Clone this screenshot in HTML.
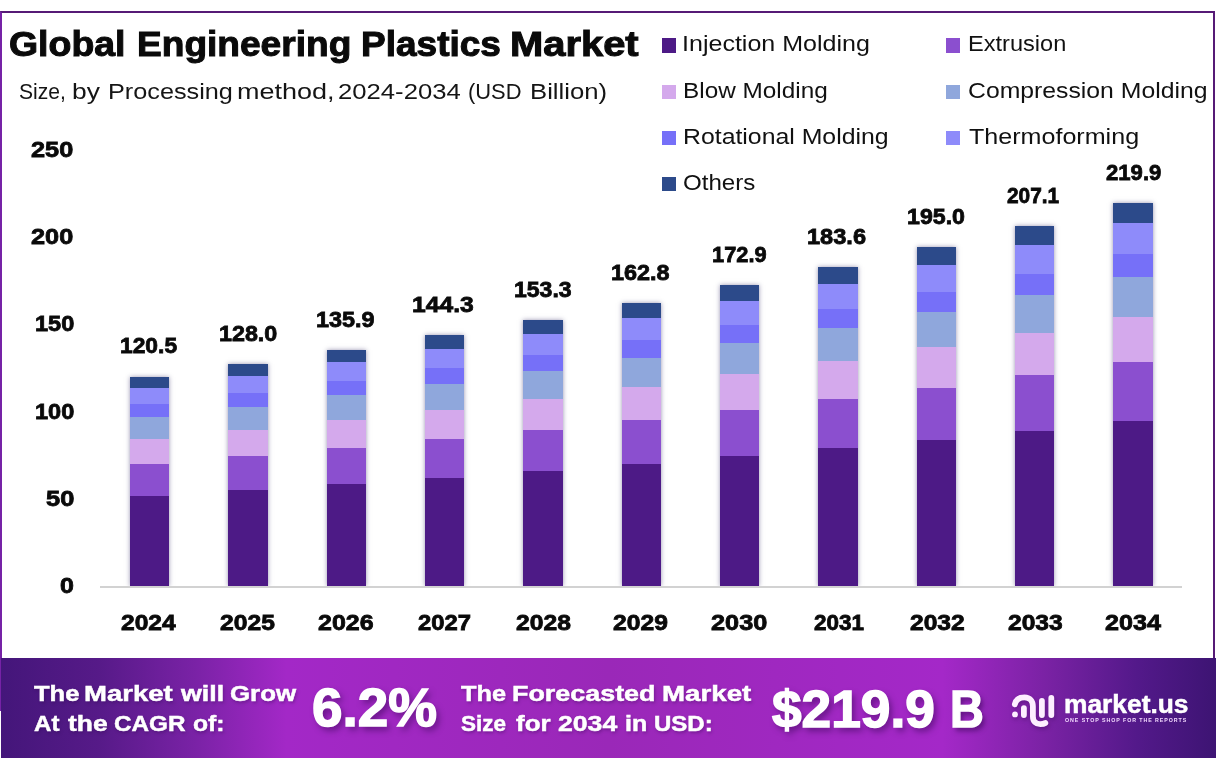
<!DOCTYPE html>
<html lang="en"><head><meta charset="utf-8"><title>Global Engineering Plastics Market</title>
<style>
html,body{margin:0;padding:0;background:#fff;}
body{width:1216px;height:776px;position:relative;overflow:hidden;font-family:"Liberation Sans",sans-serif;}
.t{position:absolute;z-index:5;white-space:nowrap;line-height:1;transform-origin:0 0;margin:0;padding:0;}
.b{position:absolute;}
.frame{position:absolute;left:0;top:11px;width:1215px;height:700px;border-left:2px solid #7622a6;border-top:2px solid #561a76;border-right:2px solid #561a76;box-sizing:border-box;z-index:3;}
.banner{position:absolute;left:1.2px;top:657.6px;width:1214.8px;z-index:4;height:100px;background:linear-gradient(90deg,#44167a 0%,#561a88 8%,#7a22a6 16%,#a328c7 23.5%,#9a28b8 50%,#a428c8 77.5%,#7a22a4 86%,#53198a 93.5%,#3d1473 100%);}
.plot{position:absolute;left:0;top:0;width:1216px;height:586px;overflow:hidden;}
.axis{position:absolute;left:100px;top:586px;width:1082px;height:1.5px;background:#d2d2d2;}
.bar{position:absolute;box-shadow:0 0 4.5px rgba(50,40,100,.5);}
.seg{position:absolute;left:0;width:100%;}
.sq{position:absolute;width:14.3px;height:14.3px;}
</style></head><body>
<div class="frame"></div>
<div class="axis"></div>
<div class="plot">
<div class="bar" style="left:130.0px;top:376.7px;width:39.4px;height:209.3px;">
<div class="seg" style="bottom:0.00px;height:90.51px;background:#4d1a86;"></div>
<div class="seg" style="bottom:90.21px;height:32.53px;background:#8b4fcf;"></div>
<div class="seg" style="bottom:122.44px;height:25.21px;background:#d4a9ec;"></div>
<div class="seg" style="bottom:147.35px;height:21.86px;background:#8fa7dc;"></div>
<div class="seg" style="bottom:168.91px;height:13.07px;background:#7670f8;"></div>
<div class="seg" style="bottom:181.67px;height:16.83px;background:#8e8bfa;"></div>
<div class="seg" style="bottom:198.21px;height:11.09px;background:#2c4a8a;"></div>
</div>
<div class="bar" style="left:228.3px;top:364.0px;width:39.4px;height:222.0px;">
<div class="seg" style="bottom:0.00px;height:95.98px;background:#4d1a86;"></div>
<div class="seg" style="bottom:95.68px;height:34.49px;background:#8b4fcf;"></div>
<div class="seg" style="bottom:129.87px;height:26.72px;background:#d4a9ec;"></div>
<div class="seg" style="bottom:156.29px;height:23.17px;background:#8fa7dc;"></div>
<div class="seg" style="bottom:179.15px;height:13.84px;background:#7670f8;"></div>
<div class="seg" style="bottom:192.70px;height:17.84px;background:#8e8bfa;"></div>
<div class="seg" style="bottom:210.23px;height:11.77px;background:#2c4a8a;"></div>
</div>
<div class="bar" style="left:326.6px;top:349.9px;width:39.4px;height:236.1px;">
<div class="seg" style="bottom:0.00px;height:102.06px;background:#4d1a86;"></div>
<div class="seg" style="bottom:101.76px;height:36.66px;background:#8b4fcf;"></div>
<div class="seg" style="bottom:138.12px;height:28.40px;background:#d4a9ec;"></div>
<div class="seg" style="bottom:166.21px;height:24.62px;background:#8fa7dc;"></div>
<div class="seg" style="bottom:190.53px;height:14.70px;background:#7670f8;"></div>
<div class="seg" style="bottom:204.93px;height:18.95px;background:#8e8bfa;"></div>
<div class="seg" style="bottom:223.59px;height:12.51px;background:#2c4a8a;"></div>
</div>
<div class="bar" style="left:425.0px;top:335.3px;width:39.4px;height:250.7px;">
<div class="seg" style="bottom:0.00px;height:108.35px;background:#4d1a86;"></div>
<div class="seg" style="bottom:108.05px;height:38.91px;background:#8b4fcf;"></div>
<div class="seg" style="bottom:146.66px;height:30.13px;background:#d4a9ec;"></div>
<div class="seg" style="bottom:176.49px;height:26.12px;background:#8fa7dc;"></div>
<div class="seg" style="bottom:202.31px;height:15.59px;background:#7670f8;"></div>
<div class="seg" style="bottom:217.61px;height:20.11px;background:#8e8bfa;"></div>
<div class="seg" style="bottom:237.41px;height:13.29px;background:#2c4a8a;"></div>
</div>
<div class="bar" style="left:523.3px;top:320.0px;width:39.4px;height:266.0px;">
<div class="seg" style="bottom:0.00px;height:114.95px;background:#4d1a86;"></div>
<div class="seg" style="bottom:114.65px;height:41.26px;background:#8b4fcf;"></div>
<div class="seg" style="bottom:155.61px;height:31.95px;background:#d4a9ec;"></div>
<div class="seg" style="bottom:187.26px;height:27.70px;background:#8fa7dc;"></div>
<div class="seg" style="bottom:214.66px;height:16.53px;background:#7670f8;"></div>
<div class="seg" style="bottom:230.89px;height:21.31px;background:#8e8bfa;"></div>
<div class="seg" style="bottom:251.90px;height:14.10px;background:#2c4a8a;"></div>
</div>
<div class="bar" style="left:621.6px;top:303.1px;width:39.4px;height:282.9px;">
<div class="seg" style="bottom:0.00px;height:122.23px;background:#4d1a86;"></div>
<div class="seg" style="bottom:121.93px;height:43.87px;background:#8b4fcf;"></div>
<div class="seg" style="bottom:165.50px;height:33.97px;background:#d4a9ec;"></div>
<div class="seg" style="bottom:199.16px;height:29.44px;background:#8fa7dc;"></div>
<div class="seg" style="bottom:228.30px;height:17.56px;background:#7670f8;"></div>
<div class="seg" style="bottom:245.56px;height:22.65px;background:#8e8bfa;"></div>
<div class="seg" style="bottom:267.91px;height:14.99px;background:#2c4a8a;"></div>
</div>
<div class="bar" style="left:719.9px;top:285.1px;width:39.4px;height:300.9px;">
<div class="seg" style="bottom:0.00px;height:129.99px;background:#4d1a86;"></div>
<div class="seg" style="bottom:129.69px;height:46.64px;background:#8b4fcf;"></div>
<div class="seg" style="bottom:176.03px;height:36.11px;background:#d4a9ec;"></div>
<div class="seg" style="bottom:211.83px;height:31.29px;background:#8fa7dc;"></div>
<div class="seg" style="bottom:242.83px;height:18.65px;background:#7670f8;"></div>
<div class="seg" style="bottom:261.18px;height:24.07px;background:#8e8bfa;"></div>
<div class="seg" style="bottom:284.95px;height:15.95px;background:#2c4a8a;"></div>
</div>
<div class="bar" style="left:818.2px;top:266.9px;width:39.4px;height:319.1px;">
<div class="seg" style="bottom:0.00px;height:137.83px;background:#4d1a86;"></div>
<div class="seg" style="bottom:137.53px;height:49.44px;background:#8b4fcf;"></div>
<div class="seg" style="bottom:186.67px;height:38.27px;background:#d4a9ec;"></div>
<div class="seg" style="bottom:224.65px;height:33.17px;background:#8fa7dc;"></div>
<div class="seg" style="bottom:257.51px;height:19.77px;background:#7670f8;"></div>
<div class="seg" style="bottom:276.98px;height:25.51px;background:#8e8bfa;"></div>
<div class="seg" style="bottom:302.19px;height:16.91px;background:#2c4a8a;"></div>
</div>
<div class="bar" style="left:916.6px;top:247.0px;width:39.4px;height:339.0px;">
<div class="seg" style="bottom:0.00px;height:146.41px;background:#4d1a86;"></div>
<div class="seg" style="bottom:146.11px;height:52.51px;background:#8b4fcf;"></div>
<div class="seg" style="bottom:198.31px;height:40.64px;background:#d4a9ec;"></div>
<div class="seg" style="bottom:238.66px;height:35.22px;background:#8fa7dc;"></div>
<div class="seg" style="bottom:273.57px;height:20.98px;background:#7670f8;"></div>
<div class="seg" style="bottom:294.25px;height:27.08px;background:#8e8bfa;"></div>
<div class="seg" style="bottom:321.03px;height:17.97px;background:#2c4a8a;"></div>
</div>
<div class="bar" style="left:1014.9px;top:226.0px;width:39.4px;height:360.0px;">
<div class="seg" style="bottom:0.00px;height:155.46px;background:#4d1a86;"></div>
<div class="seg" style="bottom:155.16px;height:55.74px;background:#8b4fcf;"></div>
<div class="seg" style="bottom:210.60px;height:43.14px;background:#d4a9ec;"></div>
<div class="seg" style="bottom:253.44px;height:37.38px;background:#8fa7dc;"></div>
<div class="seg" style="bottom:290.52px;height:22.26px;background:#7670f8;"></div>
<div class="seg" style="bottom:312.48px;height:28.74px;background:#8e8bfa;"></div>
<div class="seg" style="bottom:340.92px;height:19.08px;background:#2c4a8a;"></div>
</div>
<div class="bar" style="left:1113.2px;top:203.2px;width:39.4px;height:382.8px;">
<div class="seg" style="bottom:0.00px;height:165.29px;background:#4d1a86;"></div>
<div class="seg" style="bottom:164.99px;height:59.25px;background:#8b4fcf;"></div>
<div class="seg" style="bottom:223.94px;height:45.85px;background:#d4a9ec;"></div>
<div class="seg" style="bottom:269.49px;height:39.73px;background:#8fa7dc;"></div>
<div class="seg" style="bottom:308.92px;height:23.65px;background:#7670f8;"></div>
<div class="seg" style="bottom:332.27px;height:30.54px;background:#8e8bfa;"></div>
<div class="seg" style="bottom:362.51px;height:20.29px;background:#2c4a8a;"></div>
</div>
</div>
<div class="sq" style="left:662.0px;top:38.3px;background:#4d1a86;"></div>
<div class="sq" style="left:662.0px;top:84.5px;background:#d4a9ec;"></div>
<div class="sq" style="left:662.0px;top:130.7px;background:#7670f8;"></div>
<div class="sq" style="left:662.0px;top:177.0px;background:#2c4a8a;"></div>
<div class="sq" style="left:946.2px;top:38.3px;background:#8b4fcf;"></div>
<div class="sq" style="left:946.2px;top:84.5px;background:#8fa7dc;"></div>
<div class="sq" style="left:946.2px;top:130.7px;background:#8e8bfa;"></div>
<div class="banner"></div>
<svg class="b" style="left:1000px;top:685px;z-index:5;overflow:visible;filter:drop-shadow(1px 2px 2px rgba(40,0,70,.35));" width="70" height="50" viewBox="0 0 70 50">
<g fill="none" stroke="#fdeeff" stroke-width="5.8" stroke-linecap="round" stroke-linejoin="round">
<path d="M14.8 19.3 C16 13.5 20 12.3 24.5 12.3 C30 12.3 32.9 16 32.9 21.5 L32.9 31.5 C32.9 36.5 36 39.2 40.3 39.2 C42.8 39.2 44.3 38.7 45.3 38"/>
<path d="M23.9 23.2 L23.9 30"/>
<path d="M41.9 15.8 L41.9 30"/>
<path d="M51.3 12.9 L51.3 30"/>
</g>
<circle cx="15" cy="29.4" r="2.9" fill="#fdeeff"/>
</svg>
<div class="t" style="left:9.23px;top:26.54px;font-size:34.92px;font-weight:700;color:#0a0a0a;transform:scaleX(1.0726);-webkit-text-stroke:1px #0a0a0a;">Global</div>
<div class="t" style="left:137.38px;top:26.54px;font-size:34.92px;font-weight:700;color:#0a0a0a;transform:scaleX(1.0624);-webkit-text-stroke:1px #0a0a0a;">Engineering</div>
<div class="t" style="left:360.68px;top:26.54px;font-size:34.92px;font-weight:700;color:#0a0a0a;transform:scaleX(1.0604);-webkit-text-stroke:1px #0a0a0a;">Plastics</div>
<div class="t" style="left:509.81px;top:26.54px;font-size:34.92px;font-weight:700;color:#0a0a0a;transform:scaleX(1.1434);-webkit-text-stroke:1px #0a0a0a;">Market</div>
<div class="t" style="left:18.90px;top:81.31px;font-size:21.79px;font-weight:400;color:#151515;transform:scaleX(0.9689);">Size,</div>
<div class="t" style="left:72.49px;top:81.31px;font-size:21.79px;font-weight:400;color:#151515;transform:scaleX(1.2119);">by</div>
<div class="t" style="left:107.74px;top:81.31px;font-size:21.79px;font-weight:400;color:#151515;transform:scaleX(1.1587);">Processing</div>
<div class="t" style="left:236.86px;top:81.31px;font-size:21.79px;font-weight:400;color:#151515;transform:scaleX(1.2394);">method,</div>
<div class="t" style="left:337.52px;top:81.31px;font-size:21.79px;font-weight:400;color:#151515;transform:scaleX(1.1781);">2024-2034</div>
<div class="t" style="left:468.49px;top:81.31px;font-size:21.79px;font-weight:400;color:#151515;transform:scaleX(1.0056);">(USD</div>
<div class="t" style="left:529.52px;top:81.31px;font-size:21.79px;font-weight:400;color:#151515;transform:scaleX(1.1789);">Billion)</div>
<div class="t" style="left:681.56px;top:33.12px;font-size:22.35px;font-weight:400;color:#111;transform:scaleX(1.1209);">Injection Molding</div>
<div class="t" style="left:682.71px;top:79.83px;font-size:22.35px;font-weight:400;color:#111;transform:scaleX(1.0892);">Blow Molding</div>
<div class="t" style="left:682.89px;top:125.92px;font-size:22.35px;font-weight:400;color:#111;transform:scaleX(1.1109);">Rotational Molding</div>
<div class="t" style="left:682.72px;top:171.72px;font-size:22.35px;font-weight:400;color:#111;transform:scaleX(1.0792);">Others</div>
<div class="t" style="left:967.75px;top:33.12px;font-size:22.35px;font-weight:400;color:#111;transform:scaleX(1.0550);">Extrusion</div>
<div class="t" style="left:967.69px;top:79.83px;font-size:22.35px;font-weight:400;color:#111;transform:scaleX(1.1083);">Compression Molding</div>
<div class="t" style="left:968.50px;top:125.92px;font-size:22.35px;font-weight:400;color:#111;transform:scaleX(1.1229);">Thermoforming</div>
<div class="t" style="left:31.40px;top:137.94px;font-size:22.91px;font-weight:700;color:#0a0a0a;transform:scaleX(1.1046);-webkit-text-stroke:.8px #0a0a0a;">250</div>
<div class="t" style="left:31.40px;top:225.05px;font-size:22.91px;font-weight:700;color:#0a0a0a;transform:scaleX(1.1046);-webkit-text-stroke:.8px #0a0a0a;">200</div>
<div class="t" style="left:35.37px;top:312.35px;font-size:22.91px;font-weight:700;color:#0a0a0a;transform:scaleX(1.0280);-webkit-text-stroke:.8px #0a0a0a;">150</div>
<div class="t" style="left:35.37px;top:400.15px;font-size:22.91px;font-weight:700;color:#0a0a0a;transform:scaleX(1.0280);-webkit-text-stroke:.8px #0a0a0a;">100</div>
<div class="t" style="left:45.50px;top:487.25px;font-size:22.91px;font-weight:700;color:#0a0a0a;transform:scaleX(1.1116);-webkit-text-stroke:.8px #0a0a0a;">50</div>
<div class="t" style="left:60.00px;top:574.14px;font-size:22.91px;font-weight:700;color:#0a0a0a;transform:scaleX(1.0917);-webkit-text-stroke:.8px #0a0a0a;">0</div>
<div class="t" style="left:119.60px;top:334.31px;font-size:22.77px;font-weight:700;color:#0a0a0a;transform:scaleX(1.0016);-webkit-text-stroke:.8px #0a0a0a;">120.5</div>
<div class="t" style="left:121.40px;top:612.29px;font-size:22.63px;font-weight:700;color:#0a0a0a;transform:scaleX(1.0877);-webkit-text-stroke:.8px #0a0a0a;">2024</div>
<div class="t" style="left:218.68px;top:321.62px;font-size:22.77px;font-weight:700;color:#0a0a0a;transform:scaleX(1.0234);-webkit-text-stroke:.8px #0a0a0a;">128.0</div>
<div class="t" style="left:220.10px;top:612.29px;font-size:22.63px;font-weight:700;color:#0a0a0a;transform:scaleX(1.0895);-webkit-text-stroke:.8px #0a0a0a;">2025</div>
<div class="t" style="left:316.07px;top:307.51px;font-size:22.77px;font-weight:700;color:#0a0a0a;transform:scaleX(1.0288);-webkit-text-stroke:.8px #0a0a0a;">135.9</div>
<div class="t" style="left:318.10px;top:612.29px;font-size:22.63px;font-weight:700;color:#0a0a0a;transform:scaleX(1.1035);-webkit-text-stroke:.8px #0a0a0a;">2026</div>
<div class="t" style="left:412.42px;top:292.92px;font-size:22.77px;font-weight:700;color:#0a0a0a;transform:scaleX(1.0830);-webkit-text-stroke:.8px #0a0a0a;">144.3</div>
<div class="t" style="left:418.40px;top:612.29px;font-size:22.63px;font-weight:700;color:#0a0a0a;transform:scaleX(1.0513);-webkit-text-stroke:.8px #0a0a0a;">2027</div>
<div class="t" style="left:513.69px;top:277.62px;font-size:22.77px;font-weight:700;color:#0a0a0a;transform:scaleX(1.0107);-webkit-text-stroke:.8px #0a0a0a;">153.3</div>
<div class="t" style="left:515.70px;top:612.29px;font-size:22.63px;font-weight:700;color:#0a0a0a;transform:scaleX(1.0895);-webkit-text-stroke:.8px #0a0a0a;">2028</div>
<div class="t" style="left:611.37px;top:260.72px;font-size:22.77px;font-weight:700;color:#0a0a0a;transform:scaleX(1.0288);-webkit-text-stroke:.8px #0a0a0a;">162.8</div>
<div class="t" style="left:613.40px;top:612.29px;font-size:22.63px;font-weight:700;color:#0a0a0a;transform:scaleX(1.0895);-webkit-text-stroke:.8px #0a0a0a;">2029</div>
<div class="t" style="left:711.74px;top:242.72px;font-size:22.77px;font-weight:700;color:#0a0a0a;transform:scaleX(0.9583);-webkit-text-stroke:.8px #0a0a0a;">172.9</div>
<div class="t" style="left:711.40px;top:612.29px;font-size:22.63px;font-weight:700;color:#0a0a0a;transform:scaleX(1.1176);-webkit-text-stroke:.8px #0a0a0a;">2030</div>
<div class="t" style="left:807.36px;top:224.51px;font-size:22.77px;font-weight:700;color:#0a0a0a;transform:scaleX(1.0360);-webkit-text-stroke:.8px #0a0a0a;">183.6</div>
<div class="t" style="left:814.00px;top:612.29px;font-size:22.63px;font-weight:700;color:#0a0a0a;transform:scaleX(0.9930);-webkit-text-stroke:.8px #0a0a0a;">2031</div>
<div class="t" style="left:906.58px;top:204.62px;font-size:22.77px;font-weight:700;color:#0a0a0a;transform:scaleX(1.0179);-webkit-text-stroke:.8px #0a0a0a;">195.0</div>
<div class="t" style="left:909.60px;top:612.29px;font-size:22.63px;font-weight:700;color:#0a0a0a;transform:scaleX(1.0875);-webkit-text-stroke:.8px #0a0a0a;">2032</div>
<div class="t" style="left:1007.10px;top:183.62px;font-size:22.77px;font-weight:700;color:#0a0a0a;transform:scaleX(0.9161);-webkit-text-stroke:.8px #0a0a0a;">207.1</div>
<div class="t" style="left:1007.70px;top:612.29px;font-size:22.63px;font-weight:700;color:#0a0a0a;transform:scaleX(1.0875);-webkit-text-stroke:.8px #0a0a0a;">2033</div>
<div class="t" style="left:1105.80px;top:160.81px;font-size:22.77px;font-weight:700;color:#0a0a0a;transform:scaleX(0.9714);-webkit-text-stroke:.8px #0a0a0a;">219.9</div>
<div class="t" style="left:1104.60px;top:612.29px;font-size:22.63px;font-weight:700;color:#0a0a0a;transform:scaleX(1.1114);-webkit-text-stroke:.8px #0a0a0a;">2034</div>
<div class="t" style="left:33.50px;top:682.73px;font-size:22.35px;font-weight:700;color:#fff;transform:scaleX(1.1426);text-shadow:1px 2px 3px rgba(40,0,70,.35);-webkit-text-stroke:.5px #fff;">The</div>
<div class="t" style="left:84.07px;top:682.73px;font-size:22.35px;font-weight:700;color:#fff;transform:scaleX(1.2321);text-shadow:1px 2px 3px rgba(40,0,70,.35);-webkit-text-stroke:.5px #fff;">Market</div>
<div class="t" style="left:180.90px;top:682.73px;font-size:22.35px;font-weight:700;color:#fff;transform:scaleX(1.1985);text-shadow:1px 2px 3px rgba(40,0,70,.35);-webkit-text-stroke:.5px #fff;">will</div>
<div class="t" style="left:229.90px;top:682.73px;font-size:22.35px;font-weight:700;color:#fff;transform:scaleX(1.1572);text-shadow:1px 2px 3px rgba(40,0,70,.35);-webkit-text-stroke:.5px #fff;">Grow</div>
<div class="t" style="left:33.50px;top:713.23px;font-size:22.35px;font-weight:700;color:#fff;transform:scaleX(1.0772);text-shadow:1px 2px 3px rgba(40,0,70,.35);-webkit-text-stroke:.5px #fff;">At</div>
<div class="t" style="left:67.60px;top:713.23px;font-size:22.35px;font-weight:700;color:#fff;transform:scaleX(1.1817);text-shadow:1px 2px 3px rgba(40,0,70,.35);-webkit-text-stroke:.5px #fff;">the</div>
<div class="t" style="left:113.70px;top:713.23px;font-size:22.35px;font-weight:700;color:#fff;transform:scaleX(1.0860);text-shadow:1px 2px 3px rgba(40,0,70,.35);-webkit-text-stroke:.5px #fff;">CAGR</div>
<div class="t" style="left:193.10px;top:713.23px;font-size:22.35px;font-weight:700;color:#fff;transform:scaleX(1.1038);text-shadow:1px 2px 3px rgba(40,0,70,.35);-webkit-text-stroke:.5px #fff;">of:</div>
<div class="t" style="left:311.59px;top:680.97px;font-size:54.47px;font-weight:700;color:#fff;transform:scaleX(1.0073);text-shadow:3px 4px 6px rgba(40,0,70,.5);-webkit-text-stroke:1.5px #fff;">6.2%</div>
<div class="t" style="left:461.40px;top:682.73px;font-size:22.35px;font-weight:700;color:#fff;transform:scaleX(1.1349);text-shadow:1px 2px 3px rgba(40,0,70,.35);-webkit-text-stroke:.5px #fff;">The</div>
<div class="t" style="left:512.40px;top:682.73px;font-size:22.35px;font-weight:700;color:#fff;transform:scaleX(1.2036);text-shadow:1px 2px 3px rgba(40,0,70,.35);-webkit-text-stroke:.5px #fff;">Forecasted</div>
<div class="t" style="left:662.26px;top:682.73px;font-size:22.35px;font-weight:700;color:#fff;transform:scaleX(1.2390);text-shadow:1px 2px 3px rgba(40,0,70,.35);-webkit-text-stroke:.5px #fff;">Market</div>
<div class="t" style="left:461.40px;top:713.33px;font-size:22.35px;font-weight:700;color:#fff;transform:scaleX(1.0072);text-shadow:1px 2px 3px rgba(40,0,70,.35);-webkit-text-stroke:.5px #fff;">Size</div>
<div class="t" style="left:515.70px;top:713.33px;font-size:22.35px;font-weight:700;color:#fff;transform:scaleX(1.1599);text-shadow:1px 2px 3px rgba(40,0,70,.35);-webkit-text-stroke:.5px #fff;">for</div>
<div class="t" style="left:558.20px;top:713.33px;font-size:22.35px;font-weight:700;color:#fff;transform:scaleX(1.1913);text-shadow:1px 2px 3px rgba(40,0,70,.35);-webkit-text-stroke:.5px #fff;">2034</div>
<div class="t" style="left:625.18px;top:713.33px;font-size:22.35px;font-weight:700;color:#fff;transform:scaleX(1.1204);text-shadow:1px 2px 3px rgba(40,0,70,.35);-webkit-text-stroke:.5px #fff;">in</div>
<div class="t" style="left:654.02px;top:713.33px;font-size:22.35px;font-weight:700;color:#fff;transform:scaleX(1.0752);text-shadow:1px 2px 3px rgba(40,0,70,.35);-webkit-text-stroke:.5px #fff;">USD:</div>
<div class="t" style="left:771.50px;top:682.59px;font-size:52.23px;font-weight:700;color:#fff;transform:scaleX(1.0191);text-shadow:3px 4px 6px rgba(40,0,70,.5);-webkit-text-stroke:1.5px #fff;">$219.9</div>
<div class="t" style="left:950.21px;top:682.59px;font-size:52.23px;font-weight:700;color:#fff;transform:scaleX(0.8970);text-shadow:3px 4px 6px rgba(40,0,70,.5);-webkit-text-stroke:1.5px #fff;">B</div>
<div class="t" style="left:1063.55px;top:691.63px;font-size:25.14px;font-weight:700;color:#fff;transform:scaleX(1.0486);-webkit-text-stroke:.5px #fff;">market.us</div>
<div class="t" style="left:1064.80px;top:717.62px;font-size:5.17px;font-weight:700;color:#f3d9ff;transform:scaleX(1.0271);letter-spacing:.9px;">ONE STOP SHOP FOR THE REPORTS</div>
</body></html>
